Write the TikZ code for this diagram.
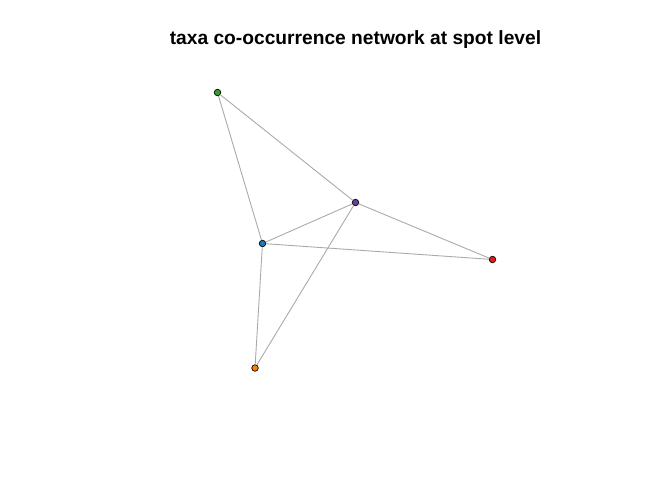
\documentclass[tikz,border=0pt]{standalone}
\usepackage{fontspec}
\setmainfont{Liberation Sans}
\definecolor{cgreen}{HTML}{33A02C}
\definecolor{cpurple}{HTML}{6A3D9A}
\definecolor{cblue}{HTML}{1F78B4}
\definecolor{cred}{HTML}{E31A1C}
\definecolor{corange}{HTML}{FF7F00}
\definecolor{edgegray}{HTML}{AAAAAA}
\begin{document}
\begin{tikzpicture}[x=1pt,y=-1pt,
  vert/.style={circle,draw=black,line width=0.7pt,inner sep=0pt,minimum size=6.5pt},
  edge/.style={draw=edgegray,line width=0.9pt}]
\useasboundingbox (0,0) rectangle (672,480);
\node[font=\bfseries\fontsize{19.2}{23}\selectfont] (title) at (355.5,40) {taxa co-occurrence network at spot level};
\node[vert,fill=cgreen] (g) at (217.5,92.5) {};
\node[vert,fill=cpurple] (p) at (355.5,202.5) {};
\node[vert,fill=cblue] (b) at (262.5,243.5) {};
\node[vert,fill=cred] (r) at (492.5,259.5) {};
\node[vert,fill=corange] (o) at (255,368) {};
\draw[edge] (g) -- (p);
\draw[edge] (g) -- (b);
\draw[edge] (b) -- (p);
\draw[edge] (p) -- (r);
\draw[edge] (b) -- (r);
\draw[edge] (b) -- (o);
\draw[edge] (p) -- (o);
\end{tikzpicture}
\end{document}
